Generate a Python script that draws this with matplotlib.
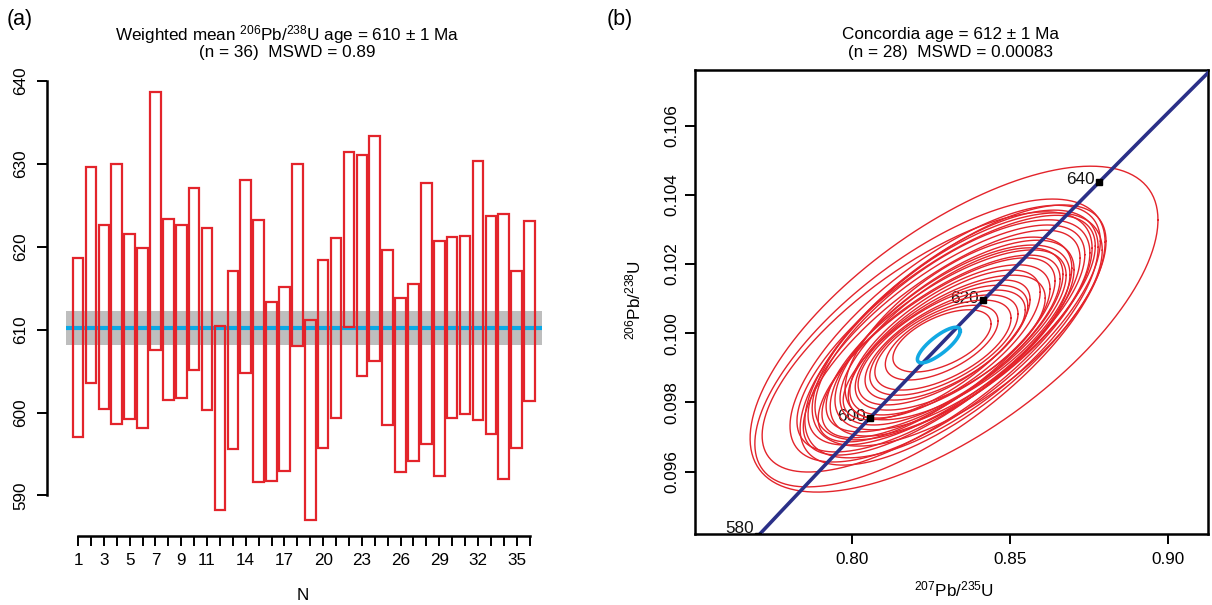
import numpy as np
import matplotlib
matplotlib.use("Agg")
import matplotlib.pyplot as plt

plt.rcParams['font.family'] = ['Liberation Sans', 'DejaVu Sans']
plt.rcParams['mathtext.fontset'] = 'custom'
plt.rcParams['mathtext.rm'] = 'Liberation Sans'
plt.rcParams['mathtext.it'] = 'Liberation Sans:italic'
plt.rcParams['mathtext.bf'] = 'Liberation Sans:bold'

# ---------------- data: panel (a) ----------------
spot_n = np.arange(1, 37)
age_high = [618.7, 629.6, 622.6, 630.0, 621.6, 619.8, 638.7, 623.4, 622.6, 627.1,
            622.3, 610.4, 617.1, 628.0, 623.2, 613.4, 615.1, 630.0, 611.2, 618.4,
            621.1, 631.4, 631.1, 633.4, 619.6, 613.8, 615.5, 627.7, 620.7, 621.2,
            621.3, 630.3, 623.7, 623.9, 617.1, 623.1]
age_low = [597.0, 603.6, 600.4, 598.6, 599.2, 598.2, 607.5, 601.5, 601.7, 605.1,
           600.3, 588.3, 595.6, 604.8, 591.6, 591.8, 592.9, 608.0, 587.1, 595.7,
           599.4, 610.3, 604.4, 606.2, 598.5, 592.8, 594.1, 596.2, 592.4, 599.3,
           599.8, 599.1, 597.4, 592.0, 595.7, 601.4]
wm_age = 610.2
wm_err = 2.05
x_tick_labels_shown = [1, 3, 5, 7, 9, 11, 14, 17, 20, 23, 26, 29, 32, 35]
y_ticks_a = [590, 600, 610, 620, 630, 640]

# ---------------- data: panel (b) ----------------
# error ellipses: centre (207Pb/235U, 206Pb/238U), half-widths, correlation
ell_x = [0.8323, 0.8247, 0.8238, 0.8320, 0.8315, 0.8298, 0.8333, 0.8318, 0.8299, 0.8317,
         0.8318, 0.8298, 0.8315, 0.8282, 0.8337, 0.8268, 0.8310, 0.8292, 0.8311, 0.8268,
         0.8288, 0.8295, 0.8291, 0.8288, 0.8284, 0.8285, 0.8284, 0.8295]
ell_y = [0.10012, 0.09972, 0.09975, 0.09995, 0.09998, 0.09999, 0.10011, 0.10010, 0.09995, 0.09986,
         0.09988, 0.09978, 0.09991, 0.09962, 0.10014, 0.09952, 0.09981, 0.09969, 0.09973, 0.09952,
         0.09966, 0.09966, 0.09966, 0.09966, 0.09973, 0.09978, 0.09973, 0.09999]
ell_sx = [0.0644, 0.0553, 0.0521, 0.0483, 0.0463, 0.0471, 0.0458, 0.0434, 0.0437, 0.0385,
          0.0371, 0.0379, 0.0352, 0.0376, 0.0358, 0.0374, 0.0316, 0.0303, 0.0300, 0.0295,
          0.0268, 0.0253, 0.0234, 0.0215, 0.0178, 0.0155, 0.0437, 0.0490]
ell_sy = [0.00471, 0.00416, 0.00376, 0.00376, 0.00358, 0.00342, 0.00337, 0.00318, 0.00318, 0.00283,
          0.00267, 0.00263, 0.00256, 0.00264, 0.00264, 0.00266, 0.00217, 0.00214, 0.00195, 0.00202,
          0.00173, 0.00159, 0.00145, 0.00130, 0.00108, 0.00090, 0.00325, 0.00371]
ell_rho = [0.67, 0.70, 0.72, 0.72, 0.70, 0.74, 0.68, 0.70, 0.73, 0.70,
           0.68, 0.72, 0.70, 0.74, 0.66, 0.75, 0.68, 0.70, 0.66, 0.72,
           0.66, 0.64, 0.62, 0.60, 0.58, 0.55, 0.75, 0.72]
conc_x, conc_y, conc_sx, conc_sy, conc_rho = 0.8275, 0.09966, 0.00676, 0.000514, 0.80
marker_ages = [580, 600, 620, 640]
LAMBDA238 = 1.55125e-10
LAMBDA235 = 9.8485e-10
x_ticks_b = [0.80, 0.85, 0.90]
y_ticks_b = [0.096, 0.098, 0.100, 0.102, 0.104, 0.106]

# ---------------- figure ----------------
W, H = 1212, 605
fig = plt.figure(figsize=(W / 100, H / 100), dpi=100)
RED = '#E3242B'
FS = 12.3


def fx(px):
    return px / W


def fy(py):
    return 1 - py / H


# ---------- panel (a) ----------
ax1 = fig.add_axes([fx(40), fy(540), 520 / W, 474 / H])
ax1.set_xlim(-1.946, 38.36)
ax1.set_ylim(584.63, 641.81)
band_x = [0.05, 36.97]
ax1.fill_between(band_x, wm_age - wm_err, wm_age + wm_err, color='#BEBEBE', lw=0, zorder=1)
ax1.plot(band_x, [wm_age, wm_age], color='#0AA8E6', lw=3, zorder=2, solid_capstyle='butt')
lo = np.array(age_low)
hi = np.array(age_high)
ax1.bar(spot_n, hi - lo, bottom=lo, width=0.82, fill=False, edgecolor=RED,
        linewidth=1.6, zorder=3)

for s in ['top', 'right']:
    ax1.spines[s].set_visible(False)
ax1.spines['left'].set_position(('data', -1.43))
ax1.spines['left'].set_bounds(590, 640)
ax1.spines['bottom'].set_position(('data', 585.1))
ax1.spines['bottom'].set_bounds(1, 36)
for s in ['left', 'bottom']:
    ax1.spines[s].set_linewidth(1.8)
ax1.set_yticks(y_ticks_a)
ax1.set_yticklabels([str(v) for v in y_ticks_a], rotation=90, va='center')
ax1.set_xticks(spot_n)
ax1.set_xticklabels([str(i) if i in x_tick_labels_shown else '' for i in spot_n])
ax1.tick_params(axis='both', direction='out', length=7.5, width=1.4, labelsize=FS)
ax1.tick_params(axis='x', pad=5)
ax1.tick_params(axis='y', pad=6)

fig.text(fx(7), fy(20), '(a)', fontsize=15.5, ha='left', va='center')
fig.text(fx(287), fy(35), r'Weighted mean $\mathregular{^{206}}$Pb/$\mathregular{^{238}}$U age = 610 ± 1 Ma',
         fontsize=FS, ha='center', va='center')
fig.text(fx(287), fy(53), '(n = 36)  MSWD = 0.89', fontsize=FS, ha='center', va='center')
fig.text(fx(303), fy(596), 'N', fontsize=FS, ha='center', va='center')

# ---------- panel (b) ----------
ax2 = fig.add_axes([fx(695), fy(534.3), 513 / W, 464.3 / H])
ax2.set_xlim(0.7505, 0.9125)
ax2.set_ylim(0.09419, 0.10761)

t = np.linspace(0, 2 * np.pi, 300)
for cx, cy, sx, sy, r in zip(ell_x, ell_y, ell_sx, ell_sy, ell_rho):
    ex = cx + sx * np.cos(t)
    ey = cy + sy * (r * np.cos(t) + np.sqrt(1 - r ** 2) * np.sin(t))
    ax2.plot(ex, ey, color=RED, lw=1.0, zorder=2)

ages = np.linspace(560e6, 680e6, 300)
ax2.plot(np.exp(LAMBDA235 * ages) - 1, np.exp(LAMBDA238 * ages) - 1,
         color='#2B3088', lw=2.6, zorder=3)

ma = np.array(marker_ages) * 1e6
mx = np.exp(LAMBDA235 * ma) - 1
my = np.exp(LAMBDA238 * ma) - 1
ax2.plot(mx, my, 's', color='black', ms=5, zorder=4)
for a, x, y in zip(marker_ages, mx, my):
    dy = 5 if a == 580 else 1.5
    ax2.annotate(str(a), (x, y), xytext=(-3, dy), textcoords='offset points',
                 ha='right', va='center', fontsize=FS, zorder=1, color='#111111',
                 annotation_clip=False)

ce_x = conc_x + conc_sx * np.cos(t)
ce_y = conc_y + conc_sy * (conc_rho * np.cos(t) + np.sqrt(1 - conc_rho ** 2) * np.sin(t))
ax2.plot(ce_x, ce_y, color='#12A9E3', lw=2.6, zorder=5)

for s in ax2.spines.values():
    s.set_linewidth(1.8)
ax2.set_xticks(x_ticks_b)
ax2.set_xticklabels(['%.2f' % v for v in x_ticks_b])
ax2.set_yticks(y_ticks_b)
ax2.set_yticklabels(['%.3f' % v for v in y_ticks_b], rotation=90, va='center')
ax2.tick_params(axis='both', direction='out', length=7.5, width=1.4, labelsize=FS)
ax2.tick_params(axis='x', pad=5)
ax2.tick_params(axis='y', pad=4)

fig.text(fx(607), fy(20), '(b)', fontsize=15.5, ha='left', va='center')
fig.text(fx(951), fy(34), 'Concordia age = 612 ± 1 Ma', fontsize=FS, ha='center', va='center')
fig.text(fx(951), fy(53), '(n = 28)  MSWD = 0.00083', fontsize=FS, ha='center', va='center')
fig.text(fx(954), fy(589), r'$\mathregular{^{207}}$Pb/$\mathregular{^{235}}$U', fontsize=FS,
         ha='center', va='center')
fig.text(fx(633), fy(300), r'$\mathregular{^{206}}$Pb/$\mathregular{^{238}}$U', fontsize=FS,
         ha='center', va='center', rotation=90)

fig.savefig('out.png', dpi=100)
